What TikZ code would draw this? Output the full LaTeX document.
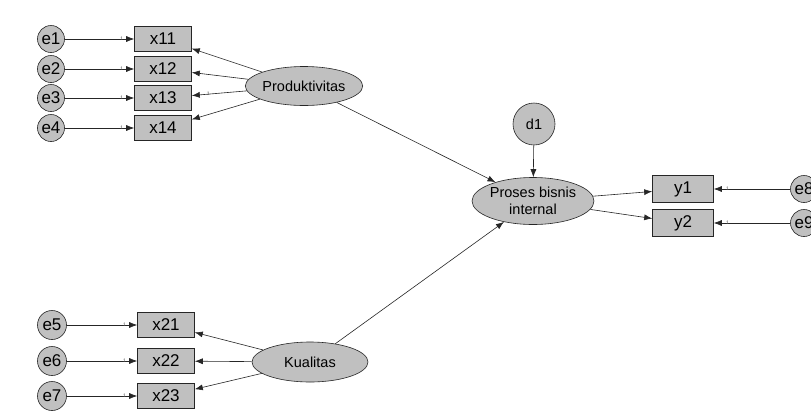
\documentclass[tikz,border=0pt]{standalone}
\usepackage{fontspec}
\setmainfont{Liberation Sans}
\usetikzlibrary{arrows.meta,shapes.geometric}
\definecolor{amosgray}{HTML}{C0C0C0}
\begin{document}
\begin{tikzpicture}[x=1pt,y=-1pt,
  every node/.style={inner sep=0pt},
  obs/.style={draw=black!85, fill=amosgray, line width=0.6pt, minimum width=57pt, minimum height=25pt, font=\fontsize{17}{17}\selectfont},
  err/.style={draw=black!85, fill=amosgray, line width=0.6pt, circle, minimum size=27pt, font=\fontsize{17}{17}\selectfont},
  lat/.style={draw=black!85, fill=amosgray, line width=0.6pt, ellipse, font=\fontsize{14.5}{14.5}\selectfont, align=center},
  path/.style={draw=black!85, line width=0.6pt, -{Latex[length=8pt,width=6pt]}},
  one/.style={font=\fontsize{5}{5}\selectfont, text=black!70}
]
\useasboundingbox (0,0) rectangle (811,416);
\fill[white] (0,0) rectangle (811,416);

% indicators of Produktivitas
\node[obs] (x11) at (163,39) {x11};
\node[obs] (x12) at (163,69) {x12};
\node[obs] (x13) at (163,98) {x13};
\node[obs] (x14) at (163,128) {x14};
\node[err] (e1) at (51,39) {e1};
\node[err] (e2) at (51,69) {e2};
\node[err] (e3) at (51,98) {e3};
\node[err] (e4) at (51,128) {e4};

% indicators of Kualitas
\node[obs] (x21) at (166,325) {x21};
\node[obs] (x22) at (166,361) {x22};
\node[obs] (x23) at (166,396) {x23};
\node[err, minimum size=29pt] (e5) at (52,325) {e5};
\node[err, minimum size=29pt] (e6) at (52,361) {e6};
\node[err, minimum size=29pt] (e7) at (52,396) {e7};

% latent variables
\node[lat, minimum width=112pt, minimum height=39pt] (prod) at (304,86) {Produktivitas};
\node[lat, minimum width=116pt, minimum height=40pt] (kual) at (310,362) {Kualitas};
\node[lat, minimum width=120pt, minimum height=47pt] (pbi) at (533,201) {Proses bisnis\\[2pt]internal};
\node[err, minimum size=42pt, font=\fontsize{14.5}{14.5}\selectfont] (d1) at (534,124) {d1};

% indicators of Proses bisnis internal
\node[obs, minimum width=61pt, minimum height=27pt] (y1) at (683,189) {y1};
\node[obs, minimum width=61pt, minimum height=27pt] (y2) at (683,223) {y2};
\node[err] (e8) at (804,189) {e8};
\node[err] (e9) at (804,223) {e9};

% error paths
\foreach \e/\x in {e1/x11,e2/x12,e3/x13,e4/x14,e5/x21,e6/x22,e7/x23,e8/y1,e9/y2}
  \draw[path] (\e) -- node[one, pos=0.82] {1} (\x);

% loadings
\draw[path] (prod) -- (x11);
\draw[path] (prod) -- (x12);
\draw[path] (prod) -- node[one, pos=0.7] {1} (x13);
\draw[path] (prod) -- (x14);
\draw[path] (kual) -- (x21);
\draw[path] (kual) -- (x22);
\draw[path] (kual) -- (x23);
\draw[path] (pbi) -- (y1);
\draw[path] (pbi) -- (y2);

% structural paths
\draw[path] (prod) -- (pbi);
\draw[path] (kual) -- (pbi);
\draw[path] (d1) -- (pbi);
\end{tikzpicture}
\end{document}
